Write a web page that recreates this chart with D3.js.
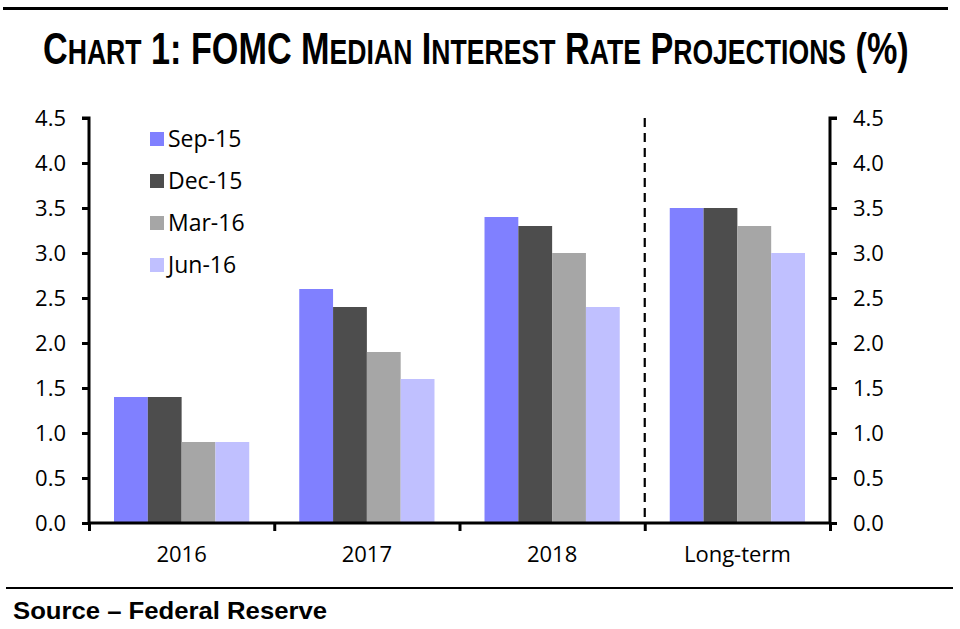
<!DOCTYPE html>
<html><head><meta charset="utf-8">
<script src="https://cdn.jsdelivr.net/npm/d3@7"></script>
<style>body{margin:0;background:#fff;} svg{display:block;}</style>
</head><body>
<svg id="c" width="960" height="629"></svg>
<script>
const categories = ["2016", "2017", "2018", "Long-term"];
const seriesNames = ["Sep-15", "Dec-15", "Mar-16", "Jun-16"];
const sep15 = [1.4, 2.6, 3.4, 3.5];
const dec15 = [1.4, 2.4, 3.3, 3.5];
const mar16 = [0.9, 1.9, 3.0, 3.3];
const jun16 = [0.9, 1.6, 2.4, 3.0];
const yTicks = [0, 0.5, 1.0, 1.5, 2.0, 2.5, 3.0, 3.5, 4.0, 4.5];
const colors = ["#8080ff", "#4d4d4d", "#a6a6a6", "#c0c0ff"];
const seriesValues = [sep15, dec15, mar16, jun16];

const svg = d3.select("#c");
const font = "'Open Sans', 'DejaVu Sans', sans-serif";
const L = 89, R = 830, T = 118, B = 523;

// top & bottom rules
svg.append("line").attr("x1",3).attr("x2",948).attr("y1",8.5).attr("y2",8.5).attr("stroke","#000").attr("stroke-width",3);
svg.append("line").attr("x1",6).attr("x2",953).attr("y1",588).attr("y2",588).attr("stroke","#000").attr("stroke-width",2);

// title with small caps, horizontally condensed by a transform to fit its width
const titleG = svg.append("g");
const title = titleG.append("text").attr("x",0).attr("y",0).attr("text-anchor","start")
  .attr("font-family","'Liberation Sans Narrow','Liberation Sans',sans-serif").attr("font-weight","bold");
const words = ["Chart","1:","FOMC","Median","Interest","Rate","Projections","(%)"];
words.forEach((w,i)=>{
  const pre = i>0 ? " " : "";
  if (/^[A-Z][a-z]+$/.test(w)) {
    title.append("tspan").attr("font-size",45).text(pre + w[0]);
    title.append("tspan").attr("font-size",35).text(w.slice(1).toUpperCase());
  } else {
    title.append("tspan").attr("font-size",45).text(pre + w);
  }
});
const natW = title.node().getComputedTextLength();
const targetW = 866;
const sx = targetW / natW;
titleG.attr("transform", `translate(${476 - targetW/2},64) scale(${sx},1)`);

const y = d3.scaleLinear().domain([0,4.5]).range([B,T]);
const x0 = d3.scaleBand().domain(categories).range([L,R]).paddingInner(0).paddingOuter(0);
const inner = x0.bandwidth()*0.73;
const x1 = d3.scaleBand().domain(seriesNames).range([0, inner]);
const off = (x0.bandwidth()-inner)/2;

// bars
seriesNames.forEach((s,si)=>{
  svg.append("g").selectAll("rect").data(categories).join("rect")
    .attr("x", c => x0(c)+off+x1(s))
    .attr("width", x1.bandwidth())
    .attr("y", (c,i) => y(seriesValues[si][i]))
    .attr("height", (c,i) => B - y(seriesValues[si][i]))
    .attr("fill", colors[si]);
});

// dashed separator
svg.append("line").attr("x1",x0("Long-term")).attr("x2",x0("Long-term")).attr("y1",T).attr("y2",B)
  .attr("stroke","#000").attr("stroke-width",2.2).attr("stroke-dasharray","9,6");

// axes
const yl = svg.append("g").attr("transform",`translate(${L},0)`)
  .call(d3.axisLeft(y).tickValues(yTicks).tickFormat(d3.format(".1f")).tickSize(7).tickPadding(16));
const yr = svg.append("g").attr("transform",`translate(${R},0)`)
  .call(d3.axisRight(y).tickValues(yTicks).tickFormat(d3.format(".1f")).tickSize(7).tickPadding(16));
const xb = svg.append("g").attr("transform",`translate(0,${B})`)
  .call(d3.axisBottom(d3.scaleLinear().domain([0,4]).range([L,R])).tickValues([0,1,2,3,4]).tickFormat("").tickSize(8));
[yl,yr,xb].forEach(g=>{
  g.select(".domain").attr("stroke","#000").attr("stroke-width",3);
  g.selectAll(".tick line").attr("stroke","#000").attr("stroke-width",3);
  g.selectAll("text").attr("font-family",font).attr("font-size",22).attr("fill","#000");
});
xb.select(".domain").attr("d",`M${L},0H${R}`);
yl.select(".domain").attr("d",`M-7,${T}H0V${B}`);
yr.select(".domain").attr("d",`M7,${T}H0V${B}`);

// category labels
svg.append("g").selectAll("text").data(categories).join("text")
  .attr("x", c => x0(c)+x0.bandwidth()/2).attr("y",562).attr("text-anchor","middle")
  .attr("font-family",font).attr("font-size",22).text(c=>c);

// legend
const lg = svg.append("g");
seriesNames.forEach((s,i)=>{
  const cy = 139 + i*42;
  lg.append("rect").attr("x",150).attr("y",cy-7).attr("width",14).attr("height",14).attr("fill",colors[i]);
  lg.append("text").attr("x",168).attr("y",cy+8).attr("font-family",font).attr("font-size",23).text(s);
});

// source
svg.append("text").attr("x",13).attr("y",619).attr("font-family","'Liberation Sans',sans-serif")
  .attr("font-weight","bold").attr("font-size",24).attr("textLength",314).attr("lengthAdjust","spacingAndGlyphs")
  .text("Source – Federal Reserve");
</script>
</body></html>
